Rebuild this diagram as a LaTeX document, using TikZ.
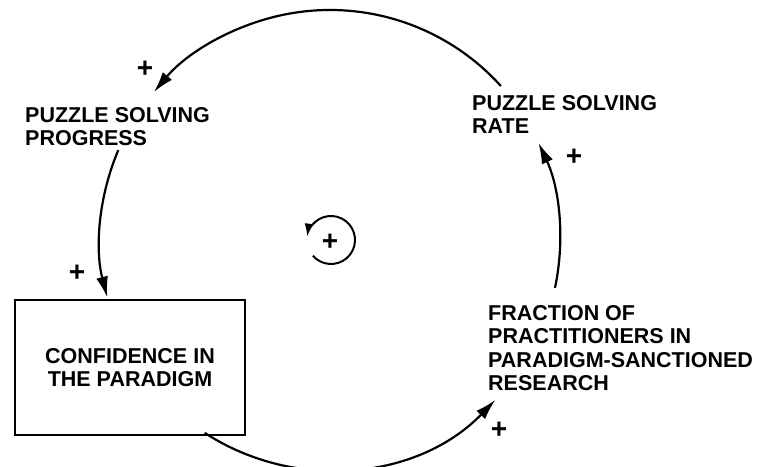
\documentclass[tikz,border=0pt]{standalone}
\usepackage{fontspec}
\setmainfont{Liberation Sans}
\usetikzlibrary{arrows.meta}
\tikzset{
  arr/.style={line width=2.2pt,-{Latex[length=21pt,width=12pt]}},
  lbl/.style={inner sep=0pt,align=left,anchor=north west,font=\fontsize{21.5}{23.5}\selectfont\bfseries},
  sgn/.style={inner sep=0pt,font=\fontsize{28}{28}\selectfont\bfseries},
  stockbox/.style={draw,line width=2.2pt,minimum width=230pt,minimum height=135pt,align=center,font=\fontsize{21.5}{23.5}\selectfont\bfseries}
}
\begin{document}
\begin{tikzpicture}[x=1pt,y=1pt]
\useasboundingbox (0,0) rectangle (779,466);
\clip (0,0) rectangle (779,466);
\coordinate (C) at (330,226);
\node[lbl] (prog) at (25,359) {PUZZLE SOLVING\\PROGRESS};
\node[lbl] (rate) at (472,371) {PUZZLE SOLVING\\RATE};
\node[lbl] (frac) at (488,161) {FRACTION OF\\PRACTITIONERS IN\\PARADIGM-SANCTIONED\\RESEARCH};
\node[stockbox] (conf) at (130,98.5) {CONFIDENCE IN\\THE PARADIGM};
% loop arcs on one circle
\draw[arr] ([shift={(42:230pt)}]C) arc[start angle=42,end angle=140,radius=230pt];
\draw[arr] ([shift={(157:230pt)}]C) arc[start angle=157,end angle=194.5,radius=230pt];
\draw[arr] ([shift={(237:230pt)}]C) arc[start angle=237,end angle=316,radius=230pt];
\draw[arr] ([shift={(-12:230pt)}]C) arc[start angle=-12,end angle=25,radius=230pt];
% loop symbol
\coordinate (L) at (331,226);
\draw[line width=2pt,-{Latex[length=13pt,width=9pt]}] ([shift={(221:24pt)}]L) arc[start angle=221,end angle=532,radius=24pt];
\node[sgn] (pl) at (330,224) {+};
% polarity signs
\node[sgn] (p1) at (145,397) {+};
\node[sgn] (p2) at (77,193) {+};
\node[sgn] (p3) at (499,36) {+};
\node[sgn] (p4) at (574,309) {+};
\end{tikzpicture}
\end{document}
